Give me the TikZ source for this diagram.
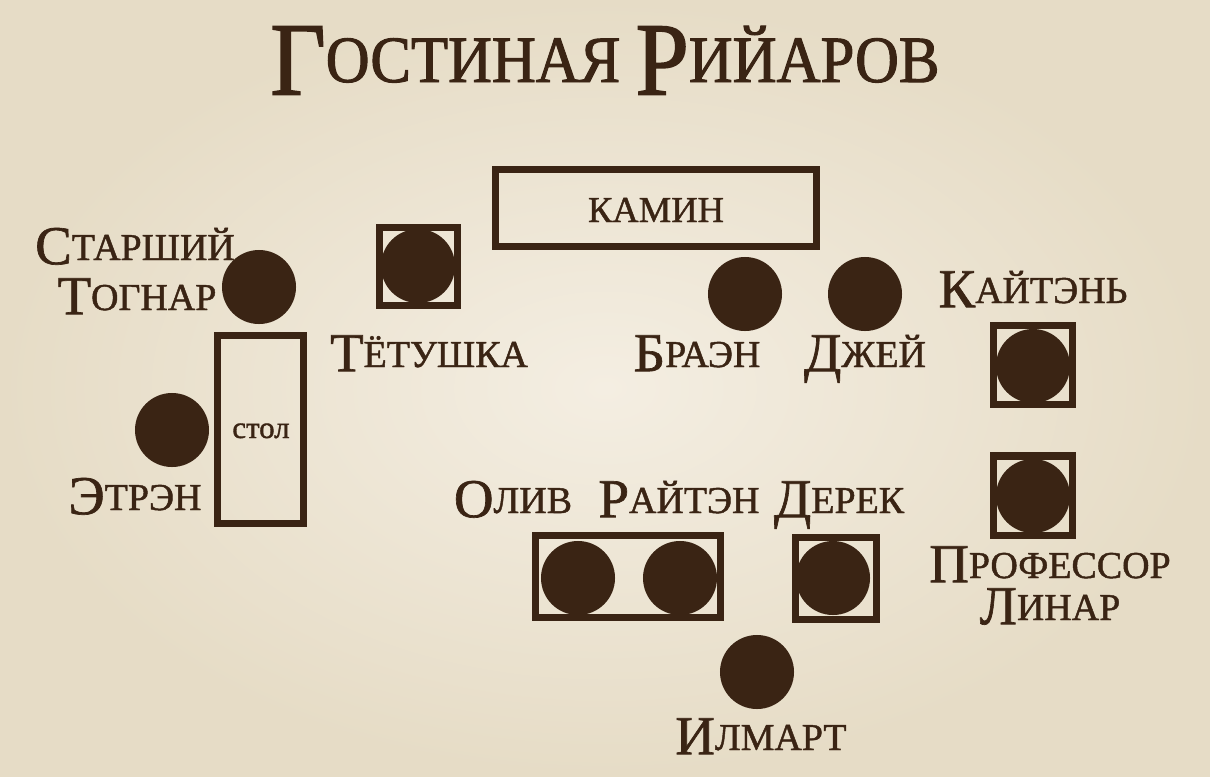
\documentclass[tikz,border=0pt]{standalone}
\usepackage{fontspec}
\setmainfont{Liberation Serif}[FakeBold=1.2]
\newfontfamily\titlefont[FakeStretch=0.92, FakeBold=1.5]{Liberation Serif}
\definecolor{ink}{HTML}{3A2414}
\definecolor{parchlight}{HTML}{F4EEE2}
\definecolor{parchdark}{HTML}{E6DCC6}
% big first letter, the rest as small capitals
\newcommand{\capname}[2]{{\fontsize{39}{40}\selectfont\raisebox{-3pt}{#1}}#2}
\newcommand{\titlecap}[2]{{\fontsize{74}{74}\selectfont\raisebox{-9pt}{#1}}#2}

\begin{document}
\begin{tikzpicture}[x=0.025cm, y=-0.025cm,
    seat/.style={circle, fill=ink, minimum size=1.85cm, inner sep=0pt},
    frame/.style={draw=ink, line width=5pt, inner sep=0pt},
    label text/.style={anchor=base, text=ink, inner sep=0pt, font=\fontsize{27}{30}\selectfont}]

        \shade[inner color=parchlight, outer color=parchdark] (0,0) rectangle (1210,776);
        \useasboundingbox (0,0) rectangle (1210,776);

        \node[label text, font=\titlefont\fontsize{47}{50}\selectfont] (title) at (605,82)
            {\titlecap{Г}{ОСТИНАЯ} \titlecap{Р}{ИЙАРОВ}};

        % furniture
        \node[frame, minimum width=8.025cm, minimum height=1.925cm] (kamin) at (656,208) {};
        \node[label text, font=\fontsize{26}{30}\selectfont] (kaminname) at (656,222) {КАМИН};
        \node[frame, minimum width=2.15cm, minimum height=4.7cm] (stol) at (260.5,429.5) {};
        \node[label text, font=\fontsize{22}{24}\selectfont] (stolname) at (261,438) {стол};

        % chairs
        \node[frame, minimum size=1.95cm] (tetchair) at (418.5,266.5) {};
        \node[frame, minimum size=1.975cm] (kaichair) at (1033,365) {};
        \node[frame, minimum size=1.975cm] (linchair) at (1033,495.5) {};
        \node[frame, minimum width=4.625cm, minimum height=2.05cm] (sofa) at (628,576.5) {};
        \node[frame, minimum width=2.025cm, minimum height=2.05cm] (derchair) at (836,578.5) {};

        % people
        \node[seat] (tognar) at (259,287) {};
        \node[seat] (etren) at (172,430) {};
        \node[seat] (tetushka) at (418,266) {};
        \node[seat] (braen) at (745,294) {};
        \node[seat] (dzhej) at (865,294) {};
        \node[seat] (kajten) at (1033,366) {};
        \node[seat] (linar) at (1033,496) {};
        \node[seat] (oliv) at (578,578) {};
        \node[seat] (rajten) at (680,578) {};
        \node[seat] (derek) at (833,578) {};
        \node[seat] (ilmart) at (757,672) {};

        % names
        \node[label text] (tognarname1) at (135,260) {\capname{С}{ТАРШИЙ}};
        \node[label text] (tognarname2) at (137,310) {\capname{Т}{ОГНАР}};
        \node[label text] (etrenname) at (135,510) {\capname{Э}{ТРЭН}};
        \node[label text] (tetushkaname) at (429,367) {\capname{Т}{ЁТУШКА}};
        \node[label text] (braenname) at (697,367) {\capname{Б}{РАЭН}};
        \node[label text] (dzhejname) at (865,367) {\capname{Д}{ЖЕЙ}};
        \node[label text] (kajtenname) at (1033,303) {\capname{К}{АЙТЭНЬ}};
        \node[label text] (linarname1) at (1050,578) {\capname{П}{РОФЕССОР}};
        \node[label text] (linarname2) at (1050,620) {\capname{Л}{ИНАР}};
        \node[label text] (olivname) at (513,513) {\capname{О}{ЛИВ}};
        \node[label text] (rajtenname) at (679,513) {\capname{Р}{АЙТЭН}};
        \node[label text] (derekname) at (839,513) {\capname{Д}{ЕРЕК}};
        \node[label text] (ilmartname) at (761,750) {\capname{И}{ЛМАРТ}};
    \end{tikzpicture}
\end{document}
